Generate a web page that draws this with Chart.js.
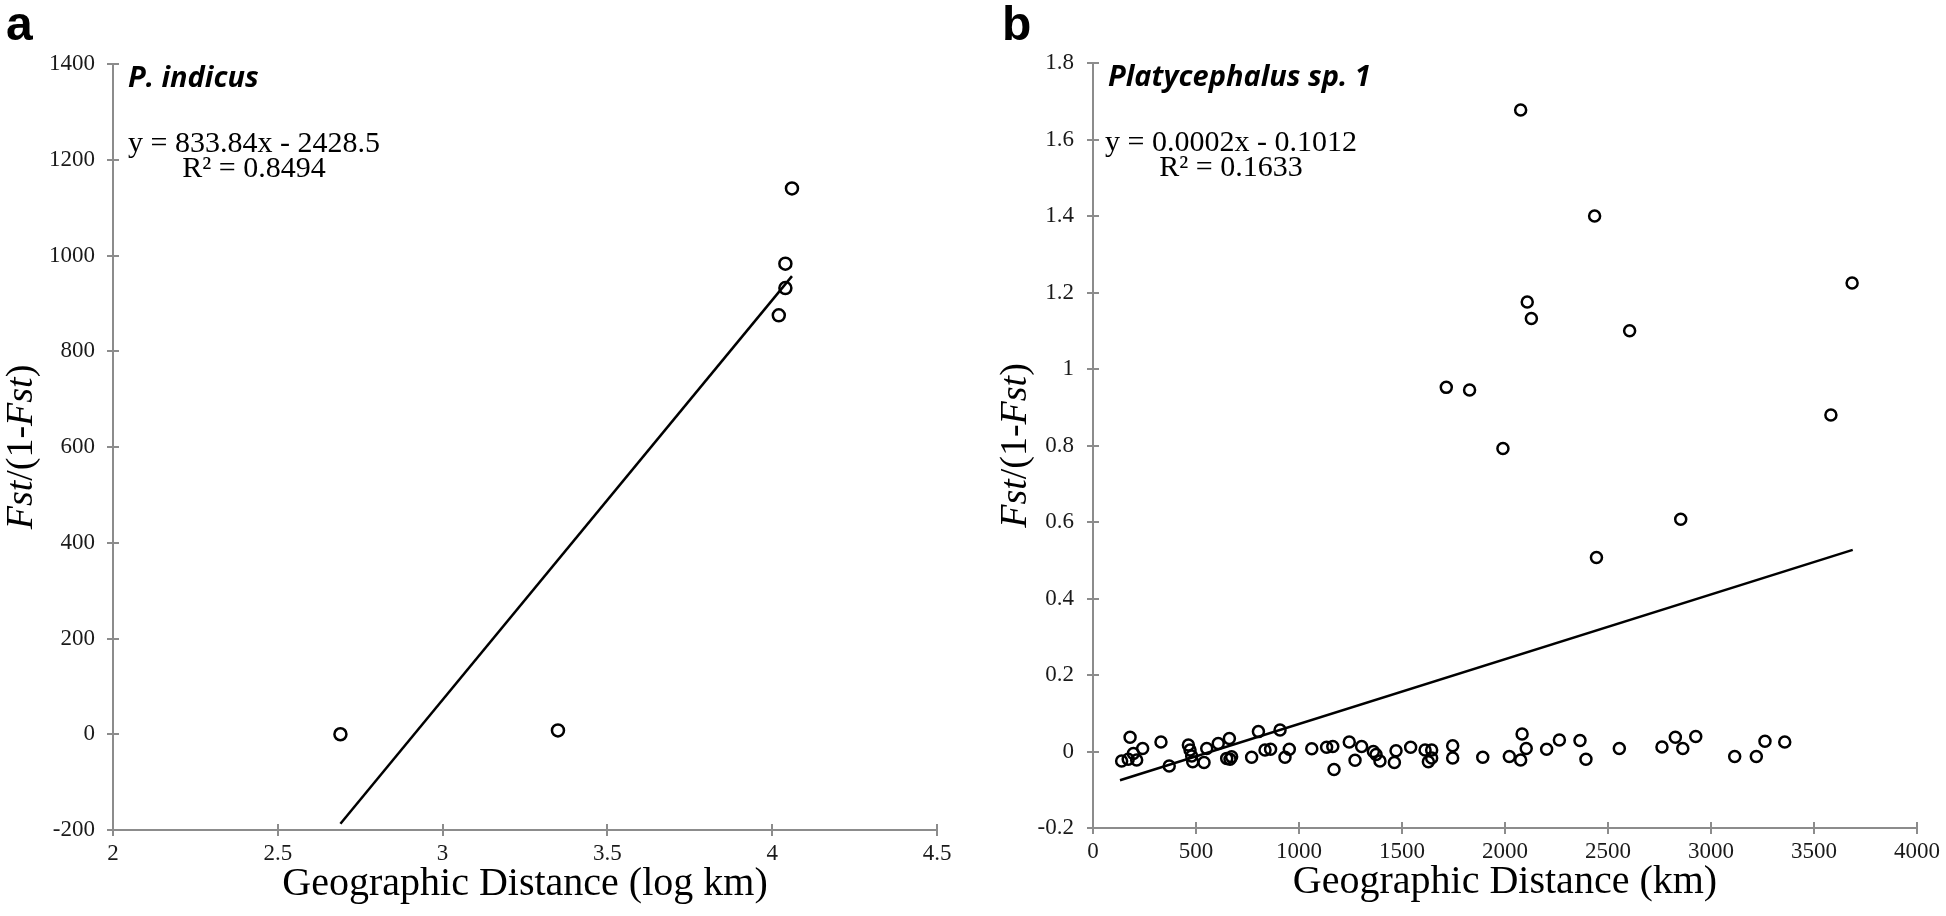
<!DOCTYPE html>
<html><head><meta charset="utf-8">
<script src="https://cdn.jsdelivr.net/npm/chart.js@4.4.1/dist/chart.umd.min.js"></script>
<style>
html,body{margin:0;padding:0;background:#fff;}
#wrap{position:relative;width:1946px;height:916px;overflow:hidden;background:#fff;}
canvas{position:absolute;top:0;}
#c1{left:0}
#c2{left:973px}
</style></head><body>
<div id="wrap"><canvas id="c1" width="973" height="916"></canvas><canvas id="c2" width="973" height="916"></canvas></div>
<script>
// ---------- Panel a data ----------
const leftX = [2.69, 3.35, 4.02, 4.04, 4.04, 4.06];
const leftY = [0, 8, 875, 932, 983, 1140];
const leftTrendX = [2.69, 4.06];
const leftTrendY = [-187, 957];
const leftXTicks = ['2','2.5','3','3.5','4','4.5'];
const leftYTicks = ['-200','0','200','400','600','800','1000','1200','1400'];

// ---------- Panel b data ----------
const rightX = [2076, 2435, 3685, 2108, 2128, 2605, 1715, 1828, 1990, 3582, 2853, 2444,
  180, 139, 171, 196, 212, 241, 330, 370, 463, 471, 479, 484, 539, 552, 608, 662, 649, 673, 665,
  770, 803, 835, 862, 908, 932, 953, 1062, 1134, 1164, 1170, 1244, 1272, 1304, 1361, 1374, 1393,
  1463, 1471, 1542, 1612, 1628, 1644, 1644, 1746, 1746, 1892, 2021, 2076, 2083, 2103, 2202, 2264,
  2364, 2393, 2555, 2762, 2827, 2863, 2926, 3115, 3220, 3262, 3358];
const rightY = [1.677, 1.40, 1.225, 1.175, 1.132, 1.10, 0.952, 0.945, 0.792, 0.88, 0.607, 0.507,
  0.037, -0.025, -0.020, -0.005, -0.022, 0.008, 0.025, -0.038, 0.017, 0.004, -0.012, -0.027, -0.029, 0.008, 0.021, 0.034, -0.018, -0.014, -0.020,
  -0.015, 0.052, 0.004, 0.006, 0.056, -0.015, 0.006, 0.007, 0.011, 0.013, -0.047, 0.025, -0.023, 0.013, 0.000, -0.008, -0.025,
  -0.029, 0.002, 0.011, 0.004, -0.027, 0.004, -0.017, 0.015, -0.017, -0.015, -0.013, -0.022, 0.046, 0.008, 0.006, 0.030,
  0.029, -0.020, 0.008, 0.012, 0.037, 0.008, 0.039, -0.013, -0.013, 0.027, 0.025];
const rightTrendX = [131, 3688];
const rightTrendY = [-0.075, 0.527];
const rightXTicks = ['0','500','1000','1500','2000','2500','3000','3500','4000'];
const rightYTicks = ['-0.2','0','0.2','0.4','0.6','0.8','1','1.2','1.4','1.6','1.8'];

// ---------- Texts ----------
const panelA = {letter:'a', species:'P. indicus', eq:'y = 833.84x - 2428.5', r2:'R\u00B2 = 0.8494', xTitle:'Geographic Distance (log km)'};
const panelB = {letter:'b', species:'Platycephalus sp. 1', eq:'y = 0.0002x - 0.1012', r2:'R\u00B2 = 0.1633', xTitle:'Geographic Distance (km)'};
const yTitleParts = [['Fst', true], ['/(1-', false], ['Fst', true], [')', false]];

const AXIS_GRAY = '#8c8c8c';
const SERIF = '"Liberation Serif", "Times New Roman", serif';

function axis(tickArr, pad, fitKey, fitVal) {
  return {
    type: 'linear',
    min: parseFloat(tickArr[0]),
    max: parseFloat(tickArr[tickArr.length - 1]),
    afterBuildTicks: s => { s.ticks = tickArr.map(t => ({value: parseFloat(t)})); },
    afterFit: s => { s[fitKey] = fitVal; },
    ticks: {
      callback: (v, i) => tickArr[i],
      font: {family: SERIF, size: 23},
      color: '#1a1a1a',
      padding: pad,
      autoSkip: false,
      maxRotation: 0,
      minRotation: 0
    },
    grid: {display: true, drawOnChartArea: false, drawTicks: true, tickLength: 6, color: AXIS_GRAY, lineWidth: 2},
    border: {display: true, color: AXIS_GRAY, width: 2},
    title: {display: false}
  };
}

function decoPlugin(cfg) {
  return {
    id: 'deco',
    afterDraw(chart) {
      const ctx = chart.ctx;
      const ca = chart.chartArea;
      const xs = chart.scales.x, ys = chart.scales.y;
      ctx.save();
      // inner halves of crossing tick marks
      ctx.strokeStyle = AXIS_GRAY; ctx.lineWidth = 2;
      ctx.beginPath();
      for (let i = 1; i < xs.ticks.length; i++) {
        const px = Math.round(xs.getPixelForTick(i));
        ctx.moveTo(px, ca.bottom); ctx.lineTo(px, ca.bottom - 6);
      }
      for (let i = 1; i < ys.ticks.length; i++) {
        const py = Math.round(ys.getPixelForTick(i));
        ctx.moveTo(ca.left, py); ctx.lineTo(ca.left + 6, py);
      }
      ctx.stroke();

      ctx.fillStyle = '#000';
      // panel letter
      ctx.font = 'bold 48px "Liberation Sans", Arial, sans-serif';
      ctx.textAlign = 'left'; ctx.textBaseline = 'alphabetic';
      ctx.fillText(cfg.p.letter, cfg.letterX, 40);
      // species name
      ctx.font = 'italic bold 29px "Open Sans", sans-serif';
      ctx.fillText(cfg.p.species, ca.left + 15, ca.top + 23);
      // equation
      ctx.font = '30px ' + SERIF;
      ctx.textAlign = 'center';
      ctx.fillText(cfg.p.eq, cfg.eqX, ca.top + 88);
      ctx.fillText(cfg.p.r2, cfg.eqX, ca.top + 113);
      // x title
      ctx.font = '40px ' + SERIF;
      ctx.fillText(cfg.p.xTitle, (ca.left + ca.right) / 2, ca.bottom + 65);
      // y title (rotated, mixed italic)
      const fs = 38;
      ctx.translate(cfg.yTitleBase, (ca.top + ca.bottom) / 2);
      ctx.rotate(-Math.PI / 2);
      let total = 0;
      const widths = yTitleParts.map(([t, it]) => {
        ctx.font = (it ? 'italic ' : '') + fs + 'px ' + SERIF;
        const w = ctx.measureText(t).width; total += w; return w;
      });
      let xx = -total / 2;
      ctx.textAlign = 'left';
      yTitleParts.forEach(([t, it], i) => {
        ctx.font = (it ? 'italic ' : '') + fs + 'px ' + SERIF;
        ctx.fillText(t, xx, 0);
        xx += widths[i];
      });
      ctx.restore();
    }
  };
}

function makeChart(id, xs, ys, tx, ty, xT, yT, yW, xH, pad, deco, radius) {
  return new Chart(document.getElementById(id), {
    type: 'scatter',
    data: {
      datasets: [
        {
          data: xs.map((x, i) => ({x: x, y: ys[i]})),
          pointStyle: 'circle',
          pointRadius: radius,
          pointHoverRadius: radius,
          pointBorderWidth: 2.5,
          pointBorderColor: '#000',
          pointBackgroundColor: 'rgba(0,0,0,0)',
          showLine: false
        },
        {
          data: tx.map((x, i) => ({x: x, y: ty[i]})),
          showLine: true,
          borderColor: '#000',
          borderWidth: 2.5,
          pointRadius: 0,
          pointHoverRadius: 0,
          fill: false
        }
      ]
    },
    options: {
      responsive: false,
      animation: false,
      devicePixelRatio: 1,
      layout: {padding: pad},
      plugins: {legend: {display: false}, tooltip: {enabled: false}},
      events: [],
      scales: {
        x: axis(xT, 4, 'height', xH),
        y: axis(yT, yW[1], 'width', yW[0])
      }
    },
    plugins: [decoPlugin(deco)]
  });
}

makeChart('c1', leftX, leftY, leftTrendX, leftTrendY, leftXTicks, leftYTicks,
  [113, 12], 86, {left: 0, top: 64, right: 36, bottom: 0},
  {p: panelA, letterX: 6, eqX: 254, yTitleBase: 32}, 6);
makeChart('c2', rightX, rightY, rightTrendX, rightTrendY, rightXTicks, rightYTicks,
  [120, 13], 88, {left: 0, top: 63, right: 29, bottom: 0},
  {p: panelB, letterX: 29, eqX: 258, yTitleBase: 53}, 5.5);
</script>
</body></html>
